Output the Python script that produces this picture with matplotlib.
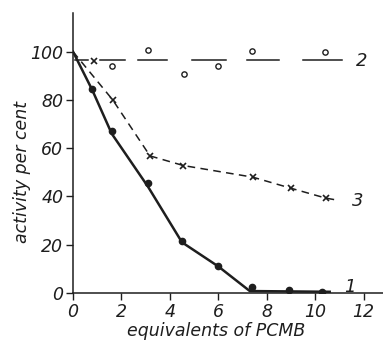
import matplotlib
matplotlib.use("Agg")
import matplotlib.pyplot as plt

# ---------- data ----------
# curve 1: filled dots + solid line
dots1_x = [0.8, 1.6, 3.1, 4.5, 6.0, 7.4, 8.9, 10.3]
dots1_y = [84.5, 67, 45.5, 21.5, 11.3, 2.4, 1.2, 0.4]
line1_x = [0, 0.8, 1.6, 3.1, 4.5, 6.0, 7.3, 10.6]
line1_y = [100, 84, 66, 44, 21, 11, 0.8, 0.5]

# curve 2: open circles + broken horizontal line
dots2_x = [1.6, 3.1, 4.6, 6.0, 7.4, 10.4]
dots2_y = [94.2, 100.5, 90.7, 94.2, 100.4, 99.7]
line2_level = 96.7
line2_starts = [0.1, 1.1, 2.7, 4.9, 7.2, 9.5]
line2_ends = [0.6, 2.15, 3.9, 6.3, 8.5, 11.1]

# curve 3: crosses + dashed line
dots3_x = [0.88, 1.64, 3.18, 4.56, 7.42, 9.0, 10.44]
dots3_y = [96.3, 80, 56.8, 52.8, 48, 43.4, 39.3]
line3_x = [0, 1.64, 3.18, 4.56, 7.42, 9.0, 10.44, 10.9]
line3_y = [100, 80, 56.8, 52.8, 48, 43.4, 39.3, 38.5]

curve_labels = ["1", "2", "3"]
label_x = [11.2, 11.7, 11.5]
label_y = [2.5, 96, 38]

x_ticks = [0, 2, 4, 6, 8, 10, 12]
y_ticks = [0, 20, 40, 60, 80, 100]

INK = "#1e1e1e"
plt.rcParams["font.family"] = ["DejaVu Sans"]

fig = plt.figure(figsize=(3.83, 3.41), dpi=100)
ax = fig.add_axes([0.1906, 0.1408, 0.8094, 0.821])

ax.plot(line1_x, line1_y, "-", color=INK, linewidth=1.8)
ax.plot(dots1_x, dots1_y, "o", color=INK, markersize=4.5)

for s, e in zip(line2_starts, line2_ends):
    ax.plot([s, e], [line2_level, line2_level], "-", color=INK, linewidth=1.1)
ax.plot(dots2_x, dots2_y, "o", markerfacecolor="white", markeredgecolor=INK,
        markersize=3.8, markeredgewidth=1.0, linestyle="none")

ax.plot(line3_x, line3_y, color=INK, linewidth=1.1, dashes=(5, 3.5))
ax.plot(dots3_x, dots3_y, "x", color=INK, markersize=5, markeredgewidth=1.2,
        linestyle="none")

for t, lx, ly in zip(curve_labels, label_x, label_y):
    ax.text(lx, ly, t, fontsize=13, style="italic", color=INK,
            ha="left", va="center")

ax.set_xlim(0, 12.8)
ax.set_ylim(0, 116)
ax.set_xticks(x_ticks)
ax.set_yticks(y_ticks)
ax.set_xticklabels([str(v) for v in x_ticks], fontsize=12.5, style="italic", color=INK)
ax.set_yticklabels([str(v) for v in y_ticks], fontsize=12.5, style="italic", color=INK)
ax.tick_params(direction="out", length=5, width=1, colors=INK, pad=2)
for side in ["top", "right"]:
    ax.spines[side].set_visible(False)
for side in ["left", "bottom"]:
    ax.spines[side].set_color(INK)
    ax.spines[side].set_linewidth(1.1)
ax.patch.set_alpha(0)

fig.text(0.057, 0.495, "activity per cent", rotation=90, fontsize=12.5,
         style="italic", color=INK, ha="center", va="center")
fig.text(0.565, 0.028, "equivalents of PCMB", fontsize=12.5,
         style="italic", color=INK, ha="center", va="center")

fig.savefig("out.png", dpi=100)
